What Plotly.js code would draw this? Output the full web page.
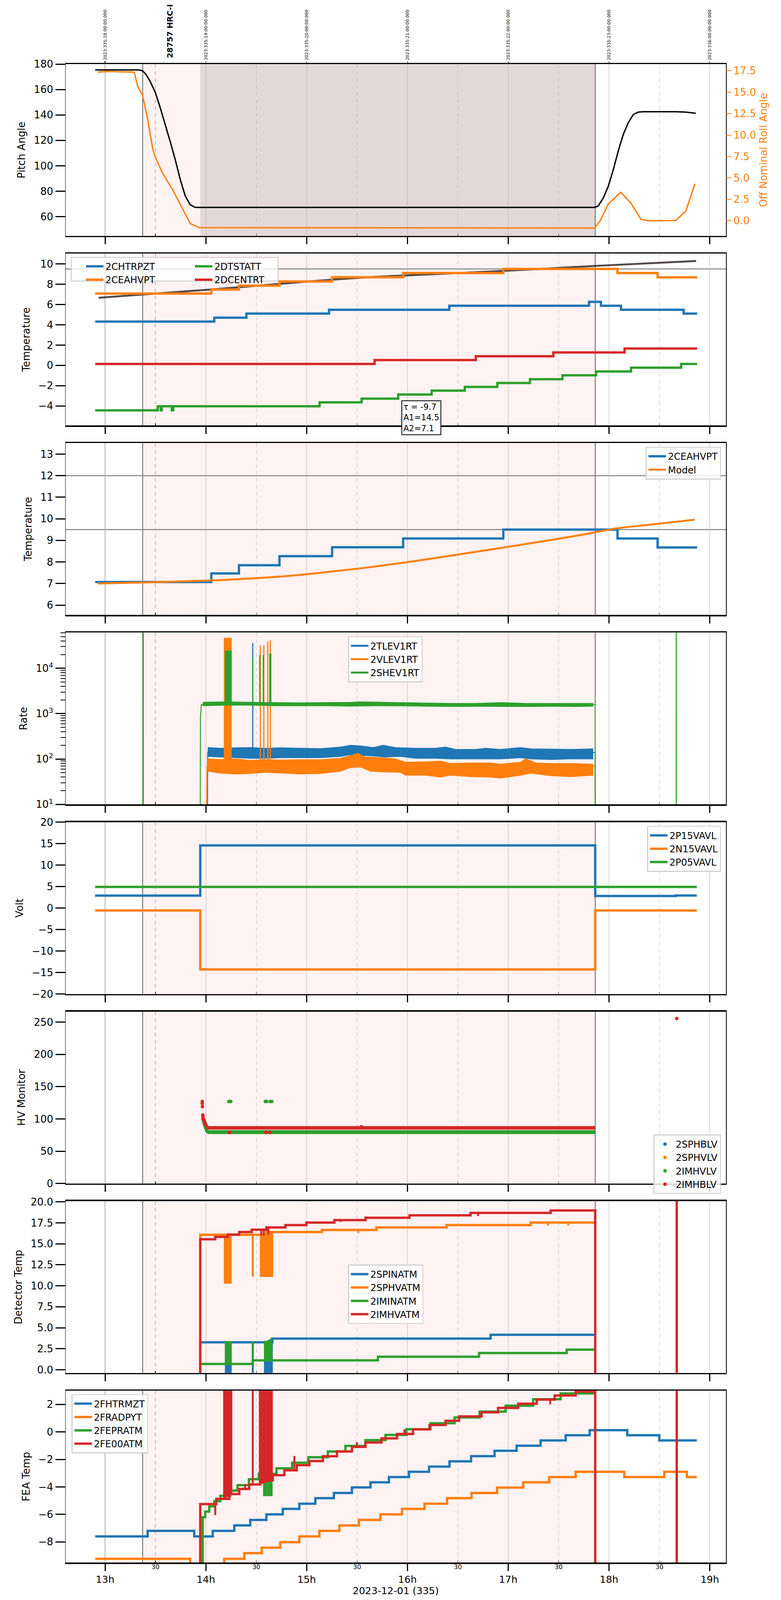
<!DOCTYPE html>
<html>
<head>
<meta charset="utf-8">
<script src="https://cdn.plot.ly/plotly-3.0.1.min.js"></script>
<style>html,body{margin:0;background:#fff;overflow:hidden}</style>
</head>
<body>
<div id="myDiv"></div>
<script>
// ---------- axes / ticks ----------
var XR = [12.608, 19.160];
var hours = [13, 14, 15, 16, 17, 18, 19];
var hourText = ['13h', '14h', '15h', '16h', '17h', '18h', '19h'];
var halfHours = [13.5, 14.5, 15.5, 16.5, 17.5, 18.5];
var halfText = ['30', '30', '30', '30', '30', '30'];
var dateText = ['2023:335:18:00:00.000', '2023:335:19:00:00.000', '2023:335:20:00:00.000',
  '2023:335:21:00:00.000', '2023:335:22:00:00.000', '2023:335:23:00:00.000', '2023:336:00:00:00.000'];
var obsStart = 13.373, obsEnd = 17.863, slewEnd = 13.944;
var obsLabel = '28757 HRC-I', obsLabelT = 13.646;

// ---------- panel 1: pitch / roll ----------
var pitchT = [12.901, 13.338, 13.373, 13.407, 13.447, 13.497, 13.546, 13.596, 13.646, 13.695, 13.745, 13.795, 13.844, 13.894,
  17.858, 17.893, 17.942, 17.992, 18.042, 18.091, 18.141, 18.191, 18.240, 18.290, 18.340, 18.662, 18.762, 18.861];
var pitchV = [175.4, 175.4, 174.6, 171.8, 166.3, 157.9, 145.9, 132.9, 119.0, 105.1, 89.4, 76.4, 69.4, 67.3,
  67.3, 68.5, 74.5, 83.8, 96.8, 111.6, 124.6, 133.8, 140.3, 142.2, 142.5, 142.5, 142.2, 141.3];
var rollT = [12.926, 13.025, 13.174, 13.288, 13.323, 13.373, 13.422, 13.472, 13.497, 13.571, 13.671, 13.745, 13.844, 13.934,
  15.930, 17.858, 17.917, 17.992, 18.116, 18.215, 18.315, 18.389, 18.662, 18.762, 18.851];
var rollV = [17.34, 17.40, 17.36, 17.34, 15.69, 14.59, 11.84, 8.41, 7.45, 5.52, 3.60, 1.95, -0.32, -0.80,
  -0.82, -0.84, 0.10, 1.95, 3.32, 2.09, 0.19, 0.0, 0.03, 1.13, 4.31];

// ---------- panel 2: temperatures ----------
var chtrpztE = [12.902, 14.083, 14.402, 15.222, 16.415, 17.801, 17.920, 18.119, 18.740, 18.874];
var chtrpztV = [4.31, 4.70, 5.10, 5.48, 5.87, 6.26, 5.87, 5.48, 5.10];
var ceahvptE = [12.902, 14.054, 14.328, 14.730, 15.252, 15.957, 16.951, 18.084, 18.482, 18.874];
var ceahvptV = [7.07, 7.47, 7.85, 8.27, 8.68, 9.09, 9.50, 9.09, 8.67];
var dtstattE = [12.902, 13.522, 13.552, 13.562, 13.662, 13.675, 15.128, 15.545, 15.908, 16.240, 16.569, 16.891,
  17.215, 17.538, 17.871, 18.218, 18.715, 18.874];
var dtstattV = [-4.43, -4.02, -4.43, -4.02, -4.43, -4.02, -3.64, -3.27, -2.87, -2.49, -2.12, -1.74, -1.36, -0.98, -0.60, -0.23, 0.14];
var dcentrtE = [12.902, 15.674, 16.678, 17.448, 18.154, 18.874];
var dcentrtV = [0.14, 0.52, 0.90, 1.27, 1.66];
var fitT = [12.936, 14.044, 14.939, 15.585, 16.529, 17.324, 17.870, 18.864];
var fitV = [6.66, 7.47, 8.20, 8.66, 9.10, 9.50, 9.80, 10.28];
var fitText = 'τ = -9.7<br>A1=14.5<br>A2=7.1';
var limit2 = [9.5];

// ---------- panel 3: model ----------
var modelT = [12.926, 13.397, 14.043, 14.391, 14.838, 15.235, 15.633, 15.980, 16.328, 16.676, 17.024, 17.371, 17.719, 18.066, 18.414, 18.851];
var modelV = [7.00, 7.05, 7.14, 7.22, 7.36, 7.55, 7.76, 7.98, 8.22, 8.47, 8.72, 8.98, 9.25, 9.55, 9.73, 9.96];
var limit3 = [12, 9.5];

// ---------- panel 4: rates ----------
var tlevOnT = [14.015, 14.018, 17.862, 17.863];
var tlevOnV = [1, 140, 140, 1];
var tlevUpT = [14.018, 14.142, 14.291, 14.441, 14.590, 14.739, 14.937, 15.136, 15.335, 15.434, 15.533, 15.658, 15.757, 15.881, 16.080, 16.278, 16.378, 16.477, 16.676, 16.775, 16.924, 17.123, 17.222, 17.421, 17.620, 17.843];
var tlevUpV = [179, 173, 177, 179, 173, 177, 173, 170, 184, 201, 195, 179, 201, 179, 173, 173, 184, 163, 163, 173, 163, 179, 168, 166, 163, 168];
var tlevLoT = [14.018, 14.142, 14.291, 14.441, 14.590, 14.739, 14.937, 15.136, 15.335, 15.434, 15.533, 15.658, 15.782, 15.931, 16.080, 16.278, 16.427, 16.576, 16.725, 16.924, 17.123, 17.222, 17.421, 17.620, 17.843];
var tlevLoV = [114, 111, 107, 104, 104, 107, 107, 107, 114, 125, 121, 117, 111, 114, 104, 104, 101, 101, 101, 101, 107, 101, 98, 101, 101];
var tlevSpikes = [[14.465, 36100]];

var vlevOnT = [14.005, 14.012, 17.862, 17.863];
var vlevOnV = [1, 70, 70, 1];
var vlevUpT = [14.018, 14.142, 14.291, 14.441, 14.590, 14.739, 14.937, 15.136, 15.335, 15.434, 15.508, 15.583, 15.732, 15.881, 15.980, 16.179, 16.328, 16.427, 16.626, 16.825, 16.924, 17.123, 17.173, 17.272, 17.421, 17.620, 17.843];
var vlevUpV = [101, 98, 101, 93, 97, 95, 97, 97, 104, 118, 133, 111, 107, 101, 85, 87, 90, 80, 82, 82, 77, 85, 101, 82, 80, 80, 77];
var vlevLoT = [14.018, 14.142, 14.291, 14.441, 14.590, 14.739, 14.937, 15.136, 15.335, 15.434, 15.533, 15.633, 15.782, 15.931, 15.980, 16.179, 16.328, 16.427, 16.626, 16.825, 16.924, 17.123, 17.222, 17.421, 17.620, 17.843];
var vlevLoV = [54, 49, 47, 48, 51, 49, 47, 48, 54, 65, 67, 54, 52, 51, 44, 44, 40, 44, 41, 40, 38, 44, 49, 43, 41, 44];
var vlevSpikes = [[14.540, 32000], [14.575, 32000], [14.614, 39000], [14.639, 41000]];
var vlevBlocks = [[14.182, 14.252, 46000]];

var shevOnT = [12.90, 13.377, 13.378, 13.379, 13.943, 13.946, 13.955, 17.862, 17.863, 18.666, 18.667, 18.668, 18.87];
var shevOnV = [1, 1, 1e6, 1, 1, 800, 1600, 1580, 1, 1, 1e6, 1, 1];
var shevUpT = [13.969, 14.192, 14.441, 14.689, 14.937, 15.186, 15.434, 15.533, 15.732, 15.931, 16.179, 16.427, 16.676, 16.924, 17.173, 17.421, 17.669, 17.843];
var shevUpV = [1786, 1818, 1786, 1755, 1734, 1755, 1776, 1818, 1776, 1755, 1713, 1683, 1683, 1755, 1683, 1683, 1673, 1683];
var shevLoT = [13.969, 14.192, 14.441, 14.689, 14.937, 15.186, 15.434, 15.682, 15.931, 16.179, 16.427, 16.676, 16.924, 17.173, 17.421, 17.669, 17.843];
var shevLoV = [1493, 1538, 1538, 1493, 1493, 1493, 1466, 1493, 1484, 1466, 1432, 1449, 1432, 1432, 1449, 1432, 1466];
var shevSpikes = [[14.465, 17900], [14.535, 19500], [14.570, 19500], [14.634, 21100], [14.644, 21100]];
var shevBlocks = [[14.192, 14.252, 24000]];
var rateTicks = [10, 100, 1000, 10000];
var rateTickText = ['10<sup>1</sup>', '10<sup>2</sup>', '10<sup>3</sup>', '10<sup>4</sup>'];
var rateMinor = [20, 30, 40, 50, 60, 70, 80, 90, 200, 300, 400, 500, 600, 700, 800, 900,
  2000, 3000, 4000, 5000, 6000, 7000, 8000, 9000, 20000, 30000, 40000, 50000, 60000];

// ---------- panel 5: voltages ----------
var p15E = [12.901, 13.944, 17.863, 18.662, 18.871];
var p15V = [2.90, 14.58, 2.81, 2.92];
var n15E = [12.901, 13.944, 17.863, 18.871];
var n15V = [-0.55, -14.30, -0.55];
var p05E = [12.901, 18.871];
var p05V = [4.92];

// ---------- panel 6: HV monitor ----------
var imhvlvT = [13.969, 13.974, 13.979, 13.984, 13.989, 13.994, 13.998, 14.003, 14.008, 14.013, 14.018,
  14.227, 14.237, 14.247, 14.589, 14.604, 14.639, 14.654];
var imhvlvV = [100, 98, 95, 92, 90, 88, 86, 84, 82.5, 81, 80, 127, 127, 127, 127, 127, 127, 127];
var imhvlvLevelT = [14.023, 17.860];
var imhvlvLevelV = [79.5, 79.5];
var imhblvT = [13.964, 13.964, 13.966, 13.969, 13.971, 13.974, 13.979, 13.984, 13.989, 13.994, 13.998, 14.003, 14.008, 14.013,
  14.232, 14.237, 14.594, 14.599, 14.634, 14.639, 15.543, 18.672];
var imhblvV = [127, 124, 119, 106, 104, 101, 99, 97, 95, 93, 91, 90, 88, 87, 79.1, 79.1, 79.1, 79.1, 79.1, 79.1, 87.9, 255.5];
var imhblvLevelT = [14.015, 17.860];
var imhblvLevelV = [86.2, 86.2];

// ---------- panel 7: detector temps ----------
var spinatmE = [13.944, 14.660, 16.825, 17.853];
var spinatmV = [3.27, 3.71, 4.16];
var spinatmSpikes = [[14.465, -1]];
var spinatmBlocks = [[14.192, 14.252, -1], [14.580, 14.660, -1]];
var sphvatmE = [13.944, 14.600, 15.151, 15.692, 16.388, 17.222, 17.853];
var sphvatmV = [16.08, 16.40, 16.65, 16.95, 17.23, 17.53];
var sphvatmSpikes = [[14.465, 11.1], [15.513, 16.3], [17.396, 17.18], [17.595, 17.2]];
var sphvatmBlocks = [[14.182, 14.252, 10.29], [14.540, 14.664, 11.1]];
var iminatmE = [13.944, 14.465, 15.707, 16.710, 17.580, 17.853];
var iminatmV = [0.69, 1.12, 1.55, 1.99, 2.39];
var iminatmSpikes = [[14.465, 3.37], [14.650, 3.79]];
var iminatmBlocks = [[14.192, 14.252, 3.37], [14.580, 14.645, 3.4]];
var imhvatmE = [13.944, 14.093, 14.217, 14.331, 14.455, 14.600, 14.788, 14.997, 15.275, 15.583, 16.020, 16.626, 17.421, 17.863];
var imhvatmV = [15.54, 15.82, 16.10, 16.40, 16.68, 16.95, 17.23, 17.53, 17.82, 18.10, 18.39, 18.68, 18.97];
var imhvatmSpikes = [[14.550, 16.0], [14.575, 16.0], [14.620, 16.1], [15.335, 17.6], [16.700, 18.3], [17.396, 18.6]];
var imhvatmTailT = [18.672, 18.672];
var imhvatmTailV = [-1, 25];

// ---------- panel 8: FEA temps ----------
var fhtrmztE = [12.902, 13.422, 13.884, 14.068, 14.282, 14.440, 14.600, 14.763, 14.927, 15.086, 15.270, 15.449, 15.633, 15.816,
  16.015, 16.214, 16.417, 16.631, 16.864, 17.083, 17.321, 17.570, 17.808, 18.181, 18.499, 18.871];
var fhtrmztV = [-7.60, -7.20, -7.60, -7.20, -6.80, -6.40, -6.00, -5.60, -5.22, -4.82, -4.44, -4.04, -3.67, -3.28, -2.90, -2.52,
  -2.14, -1.76, -1.37, -1.00, -0.62, -0.24, 0.13, -0.24, -0.62];
var fradpytE = [12.902, 13.844, 14.182, 14.381, 14.555, 14.738, 14.927, 15.126, 15.325, 15.518, 15.732, 15.946, 16.169, 16.393,
  16.636, 16.889, 17.148, 17.406, 17.669, 18.151, 18.548, 18.772, 18.871];
var fradpytV = [-9.23, -9.9, -9.23, -8.82, -8.42, -8.02, -7.60, -7.20, -6.80, -6.40, -6.00, -5.60, -5.22, -4.82, -4.44, -4.05,
  -3.67, -3.28, -2.90, -3.28, -2.90, -3.28];
var fepratmE = [13.968, 13.993, 14.033, 14.083, 14.143, 14.242, 14.314, 14.427, 14.525, 14.700, 14.855, 15.017, 15.210, 15.384,
  15.583, 15.782, 15.990, 16.229, 16.467, 16.715, 16.974, 17.247, 17.520, 17.853];
var fepratmV = [-6.20, -5.80, -5.42, -5.04, -4.65, -4.27, -3.87, -3.44, -3.05, -2.65, -2.24, -1.84, -1.42, -1.02, -0.60, -0.22,
  0.20, 0.63, 1.05, 1.48, 1.91, 2.38, 2.80];
var fepratmBlocks = [[14.571, 14.606, -4.65], [14.614, 14.658, -4.65]];
var fe00atmE = [13.944, 14.103, 14.232, 14.331, 14.430, 14.540, 14.664, 14.778, 14.902, 15.027, 15.161, 15.300, 15.449, 15.583,
  15.742, 15.896, 16.055, 16.219, 16.378, 16.512, 16.735, 16.899, 17.098, 17.282, 17.460, 17.669, 17.863];
var fe00atmV = [-5.25, -4.87, -4.52, -4.15, -3.82, -3.52, -3.15, -2.79, -2.42, -2.12, -1.77, -1.42, -1.09, -0.77, -0.47, -0.15,
  0.18, 0.50, 0.81, 1.13, 1.43, 1.75, 2.05, 2.35, 2.65, 2.93];
var fe00atmSpikes = [[14.093, -6.05], [14.389, -3.79], [14.465, 10], [14.878, -1.75], [15.498, -0.75], [15.970, 0.2], [17.416, 2.0]];
var fe00atmBlocks = [[14.175, 14.258, 10], [14.529, 14.660, 10]];
var fe00atmTailT = [18.672, 18.672];
var fe00atmTailV = [-10, 10];

// ---------- page geometry ----------
// reference is 2000x6200; if the window is shorter, the figure is laid out to the window height
var BLUE = '#1f77b4', ORANGE = '#ff7f0e', GREEN = '#2ca02c', RED = '#d62728';
var FONT = 'DejaVu Sans';
var W = 2000, H0 = 6200;
var H = Math.min(H0, window.innerHeight || H0);
var S = H / H0;
var SMALL = S < 0.98;
var ML = 168, MR = 141, MT0 = 248, MB0 = 109;
var MT = Math.round(MT0 * S), MB = SMALL ? Math.max(Math.round(MB0 * S), 96) : MB0;
var PW = W - ML - MR, PH0 = H0 - MT0 - MB0;
var PANEL_H = 670, PANEL_STEP = 739;
// positions below are given in the reference's pixel frame
function px2x(px) { return (px - ML) / PW; }
function py2y(py) { return (H0 - MB0 - py) / PH0; }
function panelDomain(i) {
  var top = MT0 + PANEL_STEP * (i - 1);
  return [Math.max(0, py2y(top + PANEL_H)), Math.min(1, py2y(top))];
}
function ax(name, i) { return i === 1 ? name : name + i; }

var F_TICK = SMALL ? 26 : 27;
var F_LEG = SMALL ? 24 : 27;
var F_XTICK = SMALL ? 25 : 28;
var F_HALF = SMALL ? 16 : 19;
var F_XTITLE = SMALL ? 25 : 28;
var LW = SMALL ? 6 : 7;
var XTL = Math.max(12, Math.round(28 * S));

var div = document.getElementById('myDiv');
div.style.width = W + 'px';
div.style.height = H + 'px';

function levelAt(edges, vals, t) {
  var v = vals[0];
  for (var i = 0; i < vals.length; i++) if (t >= edges[i]) v = vals[i];
  return v;
}
function stepXY(edges, vals, pre, post, tailT, tailV) {
  var x = [], y = [];
  if (pre !== undefined && pre !== null) { x.push(edges[0]); y.push(pre); }
  for (var i = 0; i < vals.length; i++) { x.push(edges[i]); y.push(vals[i]); }
  x.push(edges[edges.length - 1]);
  y.push(post !== undefined && post !== null ? post : vals[vals.length - 1]);
  if (tailT) { x = x.concat(tailT); y = y.concat(tailV); }
  return { x: x, y: y };
}
function stepTrace(i, name, edges, vals, color, width, legend, opts) {
  opts = opts || {};
  var d = stepXY(edges, vals, opts.pre, opts.post, opts.tailT, opts.tailV);
  return { x: d.x, y: d.y, xaxis: ax('x', i), yaxis: ax('y', i), name: name, mode: 'lines',
    line: { color: color, width: width, shape: 'hv' }, legend: legend, showlegend: !!legend };
}
function spikeTrace(i, list, base, color, width) {
  var x = [], y = [];
  list.forEach(function (s) { x.push(s[0], s[0], null); y.push(base(s[0]), s[1], null); });
  return { x: x, y: y, xaxis: ax('x', i), yaxis: ax('y', i), mode: 'lines',
    line: { color: color, width: width }, showlegend: false };
}
function blockTraces(i, list, base, color) {
  return list.map(function (b) {
    return { x: [b[0], b[0], b[1], b[1], b[0]], y: [base(b[0]), b[2], b[2], base(b[1]), base(b[0])],
      xaxis: ax('x', i), yaxis: ax('y', i), mode: 'lines', fill: 'toself', fillcolor: color,
      line: { color: color, width: 2 }, showlegend: false };
  });
}
function stepBase(edges, vals) { return function (t) { return levelAt(edges, vals, t); }; }
function constBase(v) { return function () { return v; }; }

var traces = [];
// panel 1
traces.push({ x: pitchT, y: pitchV, xaxis: 'x', yaxis: 'y', mode: 'lines', line: { color: 'black', width: 3.5 }, showlegend: false });
traces.push({ x: rollT, y: rollV, xaxis: 'x', yaxis: 'y9', mode: 'lines', line: { color: ORANGE, width: 3.5 }, showlegend: false });
traces.push({ x: [null], y: [null], xaxis: 'x9', yaxis: 'y', showlegend: false });

// panel 2
traces.push({ x: fitT, y: fitV, xaxis: 'x2', yaxis: 'y2', mode: 'lines', line: { color: 'rgba(40,30,30,0.8)', width: LW - 1, shape: 'spline' }, showlegend: false });
traces.push(stepTrace(2, '2CHTRPZT', chtrpztE, chtrpztV, BLUE, LW, 'legend'));
traces.push(stepTrace(2, '2CEAHVPT', ceahvptE, ceahvptV, ORANGE, LW, 'legend'));
traces.push(stepTrace(2, '2DTSTATT', dtstattE, dtstattV, GREEN, LW, 'legend2'));
traces.push(stepTrace(2, '2DCENTRT', dcentrtE, dcentrtV, RED, LW, 'legend2'));

// panel 3
traces.push(stepTrace(3, '2CEAHVPT', ceahvptE, ceahvptV, BLUE, LW, 'legend3'));
traces.push({ x: modelT, y: modelV, xaxis: 'x3', yaxis: 'y3', name: 'Model', mode: 'lines', line: { color: ORANGE, width: LW - 1, shape: 'spline' }, legend: 'legend3' });

// panel 4
function rateSeries(color, upT, upV, loT, loV, onT, onV, spikes, blocks, base) {
  traces.push({ x: upT, y: upV, xaxis: 'x4', yaxis: 'y4', mode: 'lines', line: { color: color, width: 2 }, showlegend: false });
  traces.push({ x: loT, y: loV, xaxis: 'x4', yaxis: 'y4', mode: 'lines', fill: 'tonexty', fillcolor: color, line: { color: color, width: 2 }, showlegend: false });
  traces.push({ x: onT, y: onV, xaxis: 'x4', yaxis: 'y4', mode: 'lines', line: { color: color, width: 2.5 }, showlegend: false });
  traces.push(spikeTrace(4, spikes, constBase(base), color, 3));
  blockTraces(4, blocks, constBase(base), color).forEach(function (t) { traces.push(t); });
}
rateSeries(BLUE, tlevUpT, tlevUpV, tlevLoT, tlevLoV, tlevOnT, tlevOnV, tlevSpikes, [], 140);
rateSeries(ORANGE, vlevUpT, vlevUpV, vlevLoT, vlevLoV, vlevOnT, vlevOnV, vlevSpikes, vlevBlocks, 70);
rateSeries(GREEN, shevUpT, shevUpV, shevLoT, shevLoV, shevOnT, shevOnV, shevSpikes, shevBlocks, 1600);
[['2TLEV1RT', BLUE], ['2VLEV1RT', ORANGE], ['2SHEV1RT', GREEN]].forEach(function (s) {
  traces.push({ x: [null], y: [null], xaxis: 'x4', yaxis: 'y4', name: s[0], mode: 'lines', line: { color: s[1], width: 5 }, legend: 'legend4' });
});

// panel 5
traces.push(stepTrace(5, '2P15VAVL', p15E, p15V, BLUE, LW, 'legend5'));
traces.push(stepTrace(5, '2N15VAVL', n15E, n15V, ORANGE, LW, 'legend5'));
traces.push(stepTrace(5, '2P05VAVL', p05E, p05V, GREEN, LW, 'legend5'));

// panel 6
var MS = SMALL ? 9 : 11;
traces.push({ x: [null], y: [null], xaxis: 'x6', yaxis: 'y6', name: '2SPHBLV', mode: 'markers', marker: { color: BLUE, size: MS }, legend: 'legend6' });
traces.push({ x: [null], y: [null], xaxis: 'x6', yaxis: 'y6', name: '2SPHVLV', mode: 'markers', marker: { color: ORANGE, size: MS }, legend: 'legend6' });
traces.push({ x: imhvlvLevelT, y: imhvlvLevelV, xaxis: 'x6', yaxis: 'y6', mode: 'lines', line: { color: GREEN, width: MS + 1 }, showlegend: false });
traces.push({ x: imhvlvT, y: imhvlvV, xaxis: 'x6', yaxis: 'y6', name: '2IMHVLV', mode: 'markers', marker: { color: GREEN, size: MS }, legend: 'legend6' });
traces.push({ x: imhblvLevelT, y: imhblvLevelV, xaxis: 'x6', yaxis: 'y6', mode: 'lines', line: { color: RED, width: MS }, showlegend: false });
traces.push({ x: imhblvT, y: imhblvV, xaxis: 'x6', yaxis: 'y6', name: '2IMHBLV', mode: 'markers', marker: { color: RED, size: MS }, legend: 'legend6' });

// panel 7
function detSeries(i, name, edges, vals, color, spikes, blocks, legend, opts) {
  traces.push(stepTrace(i, name, edges, vals, color, LW, legend, opts));
  var base = stepBase(edges, vals);
  if (spikes.length) traces.push(spikeTrace(i, spikes, base, color, LW - 1));
  blockTraces(i, blocks, base, color).forEach(function (t) { traces.push(t); });
}
detSeries(7, '2SPINATM', spinatmE, spinatmV, BLUE, spinatmSpikes, spinatmBlocks, 'legend7', { pre: -1 });
detSeries(7, '2SPHVATM', sphvatmE, sphvatmV, ORANGE, sphvatmSpikes, sphvatmBlocks, 'legend7', { pre: -1 });
detSeries(7, '2IMINATM', iminatmE, iminatmV, GREEN, iminatmSpikes, iminatmBlocks, 'legend7', { pre: -1 });
detSeries(7, '2IMHVATM', imhvatmE, imhvatmV, RED, imhvatmSpikes, [], 'legend7', { pre: -1, post: -1, tailT: imhvatmTailT, tailV: imhvatmTailV });

// panel 8
detSeries(8, '2FHTRMZT', fhtrmztE, fhtrmztV, BLUE, [], [], 'legend8');
detSeries(8, '2FRADPYT', fradpytE, fradpytV, ORANGE, [], [], 'legend8');
detSeries(8, '2FEPRATM', fepratmE, fepratmV, GREEN, [], fepratmBlocks, 'legend8', { pre: -10 });
detSeries(8, '2FE00ATM', fe00atmE, fe00atmV, RED, fe00atmSpikes, fe00atmBlocks, 'legend8', { pre: -10, post: -10, tailT: fe00atmTailT, tailV: fe00atmTailV });
traces.push({ x: [null], y: [null], xaxis: 'x10', yaxis: 'y8', showlegend: false });

// ---------- layout ----------
var layout = {
  width: W, height: H,
  margin: { l: ML, r: MR, t: MT, b: MB },
  paper_bgcolor: 'white', plot_bgcolor: 'white',
  font: { family: FONT, size: F_TICK, color: 'black' },
  showlegend: true,
  shapes: [], annotations: []
};

var yTitles = ['Pitch Angle', 'Temperature', 'Temperature', 'Rate', 'Volt', 'HV Monitor', 'Detector Temp', 'FEA Temp'];
var yRanges = [[44.9, 180], [-5.91, 11.01], [5.545, 13.51], [1, 4.786], [-20, 20], [0, 266.2], [-0.39, 20.08], [-9.5, 3.0]];
var yDticks = [20, 2, 1, null, 5, 50, 2.5, 2];

for (var i = 1; i <= 8; i++) {
  layout[ax('xaxis', i)] = {
    domain: [0, 1], anchor: ax('y', i), range: XR, showline: true, mirror: true, linewidth: 3.5, linecolor: 'black',
    ticks: 'outside', ticklen: XTL, tickwidth: 3, tickcolor: 'black',
    tickmode: 'array', tickvals: hours, ticktext: hourText, showticklabels: i === 8,
    tickfont: { size: F_XTICK },
    showgrid: true, gridcolor: '#b0b0b0', gridwidth: 1.5, zeroline: false,
    minor: { tickmode: 'array', tickvals: halfHours, ticks: 'inside', ticklen: SMALL ? 5 : 7, tickwidth: 1.5, tickcolor: 'black',
      showgrid: true, gridcolor: '#b4b4b4', griddash: 'dash', gridwidth: 1.5 }
  };
  var ya = {
    domain: panelDomain(i), anchor: ax('x', i), range: yRanges[i - 1],
    showline: true, mirror: true, linewidth: 1.5, linecolor: 'black',
    ticks: 'outside', ticklen: 25, tickwidth: 3, tickcolor: 'black', tickfont: { size: F_TICK },
    showgrid: false, zeroline: false,
    title: { text: yTitles[i - 1], font: { size: F_TICK }, standoff: 14 }
  };
  if (yDticks[i - 1]) { ya.tick0 = 0; ya.dtick = yDticks[i - 1]; }
  layout[ax('yaxis', i)] = ya;

  // observation shading
  layout.shapes.push({ type: 'rect', xref: ax('x', i), yref: ax('y', i) + ' domain', x0: obsStart, x1: obsEnd, y0: 0, y1: 1,
    fillcolor: 'rgba(255,0,0,0.05)', line: { width: 0 }, layer: 'below' });
  [obsStart, obsEnd].forEach(function (t) {
    layout.shapes.push({ type: 'line', xref: ax('x', i), yref: ax('y', i) + ' domain', x0: t, x1: t, y0: 0, y1: 1,
      line: { color: 'black', width: 1.2 }, layer: 'below' });
  });
}
layout.yaxis7.tickformat = '.1f';
layout.yaxis4.type = 'log';
layout.yaxis4.tickmode = 'array';
layout.yaxis4.tickvals = rateTicks;
layout.yaxis4.ticktext = rateTickText;
layout.yaxis4.minor = { tickmode: 'array', tickvals: rateMinor, ticks: 'outside', ticklen: 12, tickwidth: 2, tickcolor: 'black', showgrid: false };
layout.xaxis8.title = { text: '2023-12-01 (335)', font: { size: F_XTITLE }, standoff: SMALL ? 4 : 14 };

// right roll axis
layout.yaxis9 = {
  overlaying: 'y', side: 'right', anchor: 'x', range: [-1.76, 18.27], tick0: 0, dtick: 2.5, tickformat: '.1f',
  ticks: 'outside', ticklen: 13, tickwidth: 2, tickcolor: ORANGE, tickfont: { size: F_TICK, color: ORANGE },
  showline: false, showgrid: false, zeroline: false,
  title: { text: 'Off Nominal Roll Angle', font: { size: F_TICK, color: ORANGE }, standoff: 10 }
};
// top date labels
layout.xaxis9 = {
  overlaying: 'x', side: 'top', anchor: 'y', range: XR, tickmode: 'array', tickvals: hours, ticktext: dateText,
  tickangle: -90, tickfont: { size: 16.5 * S }, ticks: 'outside', ticklen: Math.round(11 * S), tickwidth: 1.5, tickcolor: 'black',
  showgrid: false, showline: false, zeroline: false
};
// half-hour labels
layout.xaxis10 = {
  overlaying: 'x8', side: 'bottom', anchor: 'y8', range: XR, tickmode: 'array', tickvals: halfHours, ticktext: halfText,
  tickfont: { size: F_HALF }, ticks: '', showgrid: false, showline: false, zeroline: false
};

// slew shading on panel 1
layout.shapes.push({ type: 'rect', xref: 'x', yref: 'y domain', x0: slewEnd, x1: obsEnd, y0: 0, y1: 1,
  fillcolor: 'rgba(120,110,110,0.2)', line: { width: 0 }, layer: 'below' });
// limit lines
limit2.forEach(function (v) {
  layout.shapes.push({ type: 'line', xref: 'x2 domain', yref: 'y2', x0: 0, x1: 1, y0: v, y1: v, line: { color: '#808080', width: 2.5 }, layer: 'below' });
});
limit3.forEach(function (v) {
  layout.shapes.push({ type: 'line', xref: 'x3 domain', yref: 'y3', x0: 0, x1: 1, y0: v, y1: v, line: { color: '#808080', width: 2.5 }, layer: 'below' });
});
// panel 2 legend frame (two columns)
layout.shapes.push({ type: 'rect', xref: 'paper', yref: 'paper', x0: px2x(183), x1: px2x(712), y0: py2y(1094), y1: py2y(1002),
  fillcolor: 'rgba(255,255,255,0.8)', line: { color: '#d0d0d0', width: 2.5 }, layer: 'above' });

layout.annotations.push({ xref: 'x', yref: 'paper', x: obsLabelT, y: py2y(228), xanchor: 'center', yanchor: 'bottom',
  text: '<b>' + obsLabel + '</b>', textangle: -90, showarrow: false, font: { size: 30 * S } });
layout.annotations.push({ xref: 'paper', yref: 'paper', x: px2x(1079), y: py2y(1559), xanchor: 'center', yanchor: 'top',
  text: fitText, align: 'left', showarrow: false, bgcolor: 'white', bordercolor: 'black', borderwidth: 2,
  borderpad: SMALL ? 3 : 6, font: { size: SMALL ? 21 : 27 } });

var LEG = { font: { size: F_LEG }, bgcolor: 'rgba(255,255,255,0.8)', bordercolor: '#d0d0d0', borderwidth: 2.5,
  itemwidth: 45, tracegroupgap: 0, traceorder: 'normal' };
function leg(x, y, xanchor, extra) {
  return Object.assign({}, LEG, { x: x, y: y, xanchor: xanchor, yanchor: 'top', xref: 'paper', yref: 'paper' }, extra || {});
}
layout.legend = leg(px2x(215), py2y(1003), 'left', { bgcolor: 'rgba(0,0,0,0)', borderwidth: 0 });
layout.legend2 = leg(px2x(494), py2y(1003), 'left', { bgcolor: 'rgba(0,0,0,0)', borderwidth: 0 });
layout.legend3 = leg(px2x(1846), py2y(1740), 'right');
layout.legend4 = leg(px2x(891), py2y(2479), 'left');
layout.legend5 = leg(px2x(1846), py2y(3218), 'right');
layout.legend6 = leg(px2x(1846), py2y(4422), 'right');
layout.legend7 = leg(px2x(891), py2y(4929), 'left');
layout.legend8 = leg(px2x(183), py2y(5434), 'left');

Plotly.newPlot('myDiv', traces, layout, { staticPlot: true });
</script>
</body>
</html>
